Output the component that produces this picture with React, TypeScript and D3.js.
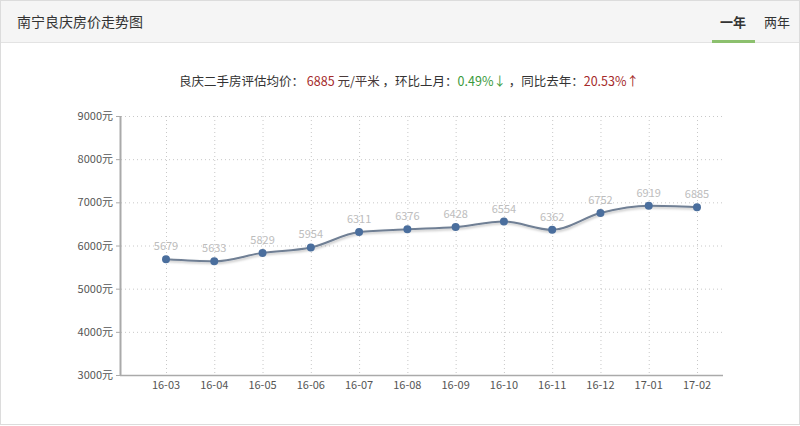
import React from "react";
import * as d3 from "d3";

const categories = ["16-03","16-04","16-05","16-06","16-07","16-08","16-09","16-10","16-11","16-12","17-01","17-02"];
const values = [5679,5633,5829,5954,6311,6376,6428,6554,6362,6752,6919,6885];
const yTicks = [3000,4000,5000,6000,7000,8000,9000];

const W = 800, H = 426;
const font = "'Noto Sans CJK SC', 'Microsoft YaHei', sans-serif";

export default function App() {
  const x = d3.scalePoint<string>().domain(categories).range([166, 697]);
  const y = d3.scaleLinear().domain([3000, 9000]).range([375, 116]);
  const line = d3.line<number>()
    .x((_, i) => x(categories[i]) as number)
    .y(d => y(d))
    .curve(d3.curveMonotoneX);
  const path = line(values) || "";
  return (
    <svg width={W} height={H} style={{ position: "absolute", left: 0, top: 0, fontFamily: font }}>
      <defs>
        <filter id="sh" x="-10%" y="-50%" width="120%" height="200%">
          <feDropShadow dx="1" dy="1.5" stdDeviation="1.2" floodColor="#000" floodOpacity="0.25" />
        </filter>
      </defs>
      <rect x={0.5} y={0.5} width={W - 1} height={H - 2} fill="#fff" stroke="#dcdcdc" />
      <rect x={1} y={1} width={W - 2} height={41} fill="#f5f5f5" />
      <line x1={1} x2={W - 1} y1={42.5} y2={42.5} stroke="#e3e3e3" />
      <text x={17} y={27} fontSize={14} fill="#333">南宁良庆房价走势图</text>
      <text x={733} y={27} fontSize={13} fill="#333" textAnchor="middle" fontWeight="bold">一年</text>
      <text x={777} y={27} fontSize={13} fill="#333" textAnchor="middle">两年</text>
      <rect x={712} y={40} width={43} height={3} fill="#8cc06e" />

      <text x={409} y={86} fontSize={12.5} textAnchor="middle" fill="#333">
        <tspan>良庆二手房评估均价： </tspan>
        <tspan fill="#a52a2a">6885</tspan>
        <tspan fill="#4a3a3a"> 元/平米</tspan>
        <tspan> ，环比上月：</tspan>
        <tspan fill="#3c9a3c">0.49%↓</tspan>
        <tspan> ，同比去年：</tspan>
        <tspan fill="#a52a2a">20.53%↑</tspan>
      </text>

      {yTicks.map(t => (
        <g key={t}>
          {t !== 3000 && (
            <line x1={121} x2={723} y1={y(t) + 0.5} y2={y(t) + 0.5} stroke="#c8c8c8" strokeDasharray="1,3" />
          )}
          <line x1={116} x2={120} y1={y(t) + 0.5} y2={y(t) + 0.5} stroke="#aaa" />
          <text x={113} y={y(t) + 4} fontSize={11} fill="#555" textAnchor="end">{t}元</text>
        </g>
      ))}
      {categories.map(c => (
        <g key={c}>
          <line x1={(x(c) as number) + 0.5} x2={(x(c) as number) + 0.5} y1={116} y2={375} stroke="#c8c8c8" strokeDasharray="1,3" />
          <text x={x(c) as number} y={389} fontSize={11} fill="#555" textAnchor="middle">{c}</text>
        </g>
      ))}
      <line x1={120.5} x2={120.5} y1={116} y2={376} stroke="#aaa" strokeWidth={2} />
      <line x1={120} x2={723} y1={375.5} y2={375.5} stroke="#aaa" strokeWidth={1.5} />

      <path d={path} fill="none" stroke="#6f7f94" strokeWidth={2} filter="url(#sh)" />
      {values.map((v, i) => (
        <g key={i}>
          <circle cx={x(categories[i]) as number} cy={y(v)} r={4} fill="#4a6e9d" />
          <text x={x(categories[i]) as number} y={y(v) - 9} fontSize={11} fill="#bdbdbd" textAnchor="middle">{v}</text>
        </g>
      ))}
    </svg>
  );
}
